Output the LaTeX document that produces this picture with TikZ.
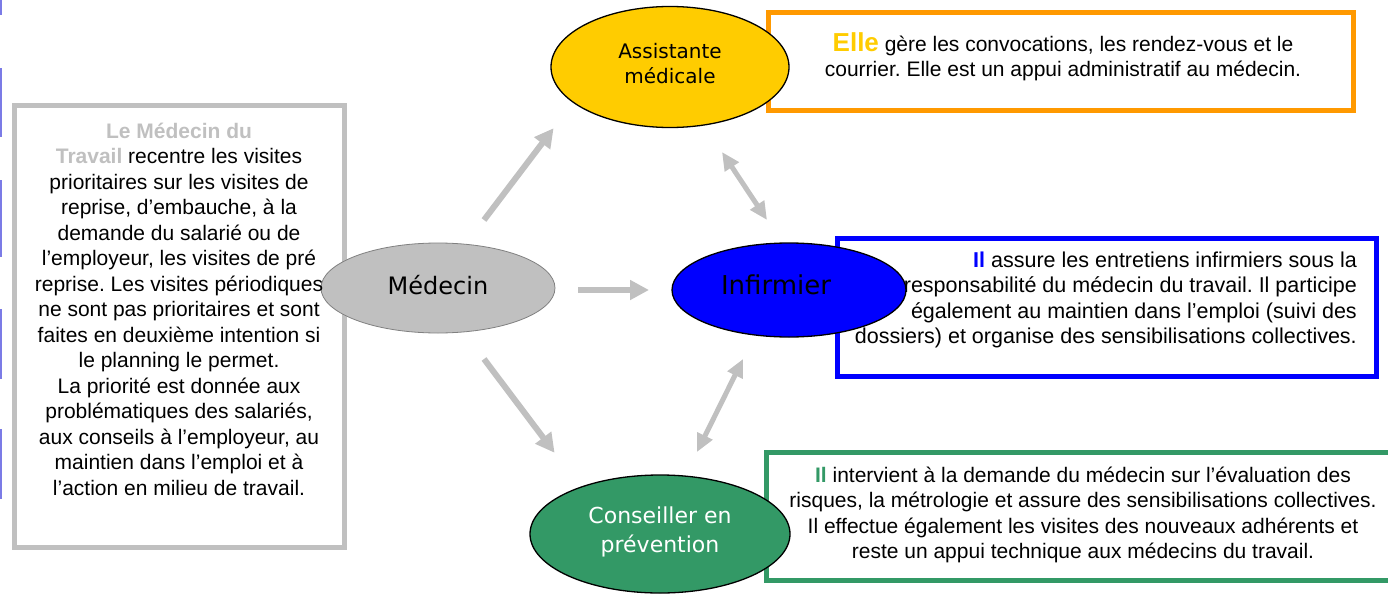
\documentclass[tikz,border=0pt]{standalone}
\usepackage{fontspec}
\setmainfont{Liberation Sans}
\newfontfamily\ellfont{DejaVu Sans}
\usetikzlibrary{shapes.geometric,arrows.meta}
\definecolor{lgray}{HTML}{C0C0C0}
\definecolor{orng}{HTML}{FF9900}
\definecolor{yell}{HTML}{FFCC00}
\definecolor{pblue}{HTML}{0000FF}
\definecolor{pgreen}{HTML}{339966}
\definecolor{markblue}{HTML}{7B7BE6}
\frenchspacing
\tikzset{
  framebox/.style={draw=#1, line width=5pt, fill=white, inner sep=0pt},
  boxtext/.style={inner sep=0pt, font={\fontsize{21pt}{25.5pt}\selectfont}},
  bubble/.style={ellipse, draw=black, line width=1.3pt, inner sep=0pt, font=\ellfont},
  onearrow/.style={draw=lgray, line width=6pt, -{Triangle[length=19pt,width=19pt]}, shorten >=-1pt},
  twoarrow/.style={draw=lgray, line width=5pt, {Triangle[length=18pt,width=16pt]}-{Triangle[length=18pt,width=16pt]}},
}
\begin{document}
\begin{tikzpicture}[x=1pt,y=-1pt]
\useasboundingbox[fill=white] (0,0) rectangle (1388,594);
% left edge marks
\foreach \a/\b in {0/15,68/137,180/257,309/379,429/499}
  \fill[markblue] (0,\a) rectangle (2,\b);

% frames
\node[framebox=lgray, minimum width=330pt, minimum height=442pt] (lbox) at (179.5,326.5) {};
\node[framebox=orng, minimum width=585pt, minimum height=97pt] (obox) at (1061,61.5) {};
\node[framebox=pblue, minimum width=539pt, minimum height=138pt] (bbox) at (1107,307.5) {};
\node[framebox=pgreen, minimum width=630pt, minimum height=128pt] (gbox) at (1081.5,516.5) {};

% texts in frames
\node[boxtext, align=right, anchor=east, font={\fontsize{21.5pt}{25.5pt}\selectfont}] (btext) at (1357,300) {%
  \textcolor{pblue}{\textbf{Il}} assure les entretiens infirmiers sous la\\
  responsabilité du médecin du travail. Il participe\\
  également au maintien dans l’emploi (suivi des\\
  dossiers) et organise des sensibilisations collectives.};

% ellipses
\node[bubble, draw=gray, line width=0.8pt, fill=lgray, minimum width=234pt, minimum height=90pt] (med) at (438,288) {};
\node[bubble, fill=yell, minimum width=238pt, minimum height=121pt] (ass) at (670,67) {};
\node[bubble, fill=pblue, minimum width=234pt, minimum height=94pt] (inf) at (789,290) {};
\node[bubble, fill=pgreen, minimum width=260pt, minimum height=118pt] (cons) at (660,534) {};

\node[font={\ellfont\fontsize{24pt}{28pt}\selectfont}, anchor=base] (medl) at (438,294) {Médecin};
\node[font={\ellfont\fontsize{26pt}{30pt}\selectfont}, anchor=base] (infl) at (776,294) {Infirmier};
\node[font={\ellfont\fontsize{20pt}{25pt}\selectfont}, align=center, inner sep=0pt] (assl) at (670,64) {Assistante\\médicale};
\node[font={\ellfont\fontsize{22pt}{29pt}\selectfont}, align=center, inner sep=0pt, text=white] (consl) at (660,532) {Conseiller en\\prévention};

\node[boxtext, align=center] (ltext) at (179,309) {%
  \textcolor{lgray}{\textbf{Le Médecin du}}\\
  \textcolor{lgray}{\textbf{Travail}} recentre les visites\\
  prioritaires sur les visites de\\
  reprise, d’embauche, à la\\
  demande du salarié ou de\\
  l’employeur, les visites de pré\\
  reprise. Les visites périodiques\\
  ne sont pas prioritaires et sont\\
  faites en deuxième intention si\\
  le planning le permet.\\
  La priorité est donnée aux\\
  problématiques des salariés,\\
  aux conseils à l’employeur, au\\
  maintien dans l’emploi et à\\
  l’action en milieu de travail.};

\node[boxtext, align=center] (otext) at (1063,57) {%
  {\fontsize{26pt}{26pt}\selectfont\textcolor{yell}{\textbf{Elle}}} gère les convocations, les rendez-vous et le\\
  courrier. Elle est un appui administratif au médecin.};

\node[boxtext, align=center] (gtext) at (1083,515) {%
  \textcolor{pgreen}{\textbf{Il}} intervient à la demande du médecin sur l’évaluation des\\
  risques, la métrologie et assure des sensibilisations collectives.\\
  Il effectue également les visites des nouveaux adhérents et\\
  reste un appui technique aux médecins du travail.};

% arrow end points
\coordinate (a1s) at (484,220);
\coordinate (a1e) at (553,129);
\coordinate (a2s) at (578,290);
\coordinate (a2e) at (648,290);
\coordinate (a3s) at (484,359);
\coordinate (a3e) at (554,452);
\coordinate (d1s) at (722,152);
\coordinate (d1e) at (767,220);
\coordinate (d2s) at (743,359);
\coordinate (d2e) at (697,452);

\draw[onearrow] (a1s) -- (a1e);
\draw[onearrow] (a2s) -- (a2e);
\draw[onearrow] (a3s) -- (a3e);
\draw[twoarrow] (d1s) -- (d1e);
\draw[twoarrow] (d2s) -- (d2e);
\end{tikzpicture}
\end{document}
